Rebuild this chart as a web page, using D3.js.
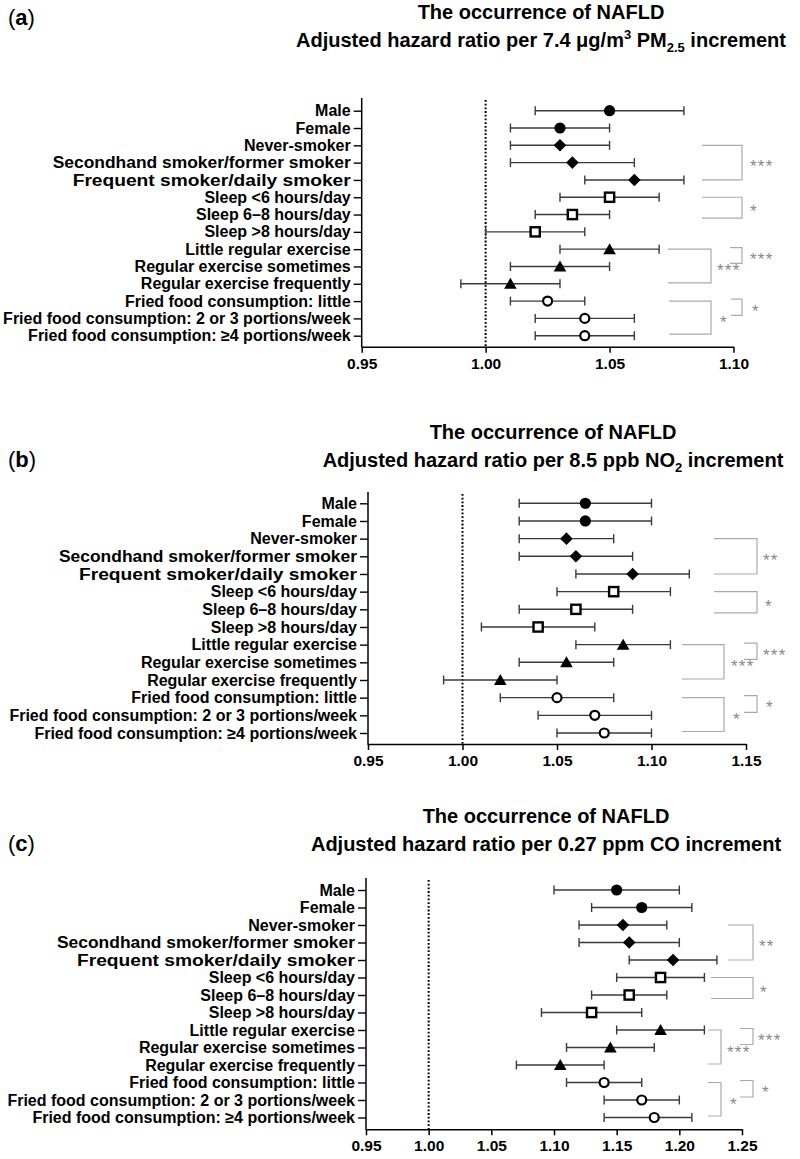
<!DOCTYPE html>
<html><head><meta charset="utf-8">
<script src="https://cdn.jsdelivr.net/npm/d3@7"></script>
<style>body{margin:0;background:#fff}svg{display:block}</style>
</head><body>
<script>
// ---------- DATA ----------
const categories = [
  "Male","Female","Never-smoker","Secondhand smoker/former smoker","Frequent smoker/daily smoker",
  "Sleep <6 hours/day","Sleep 6\u20138 hours/day","Sleep >8 hours/day",
  "Little regular exercise","Regular exercise sometimes","Regular exercise frequently",
  "Fried food consumption: little","Fried food consumption: 2 or 3 portions/week","Fried food consumption: \u22654 portions/week"
];
const markerShapes = ["dot","dot","diamond","diamond","diamond","square","square","square","triangle","triangle","triangle","ring","ring","ring"];

const pm25Est  = [1.05,1.03,1.03,1.035,1.06,1.05,1.035,1.02,1.05,1.03,1.01,1.025,1.04,1.04];
const pm25Low  = [1.02,1.01,1.01,1.01,1.04,1.03,1.02,1.00,1.03,1.01,0.99,1.01,1.02,1.02];
const pm25High = [1.08,1.05,1.05,1.06,1.08,1.07,1.05,1.04,1.07,1.05,1.03,1.04,1.06,1.06];

const no2Est  = [1.065,1.065,1.055,1.06,1.09,1.08,1.06,1.04,1.085,1.055,1.02,1.05,1.07,1.075];
const no2Low  = [1.03,1.03,1.03,1.03,1.06,1.05,1.03,1.01,1.06,1.03,0.99,1.02,1.04,1.05];
const no2High = [1.10,1.10,1.08,1.09,1.12,1.11,1.09,1.07,1.11,1.08,1.05,1.08,1.10,1.10];

const coEst  = [1.15,1.17,1.155,1.16,1.195,1.185,1.16,1.13,1.185,1.145,1.105,1.14,1.17,1.18];
const coLow  = [1.10,1.13,1.12,1.12,1.16,1.15,1.13,1.09,1.15,1.11,1.07,1.11,1.14,1.14];
const coHigh = [1.20,1.21,1.19,1.20,1.23,1.22,1.19,1.17,1.22,1.18,1.14,1.17,1.20,1.21];

const pm25Ticks = [0.95,1.00,1.05,1.10];
const no2Ticks  = [0.95,1.00,1.05,1.10,1.15];
const coTicks   = [0.95,1.00,1.05,1.10,1.15,1.20,1.25];

const bracketFrom = [2,5,8,8,11,11];
const bracketTo   = [4,6,10,9,13,12];
const pm25Stars = ["***","*","***","***","*","*"];
const no2Stars  = ["**","*","***","***","*","*"];
const coStars   = ["**","*","***","***","*","*"];

const panelLetters = ["a","b","c"];
const titleLine1 = "The occurrence of NAFLD";

// ---------- LAYOUT ----------
const W = 800, H = 1159;
const panels = [
  { letter: panelLetters[0], est: pm25Est, low: pm25Low, high: pm25High, ticks: pm25Ticks, stars: pm25Stars,
    title2: [["Adjusted hazard ratio per 7.4 \u03bcg/m",""],["3","sup"],[" PM",""],["2.5","sub"],[" increment",""]],
    titleX: 541, t1Y: 19, t2Y: 47, letterY: 25,
    axisTop: 98, row0: 110.7, rowN: 335.7, xAxisY: 346.7, xr: [361.7, 733.5],
    bx: [[702,742],[702,742],[668,711],[730,742],[669,711],[731,742]],
    sx: [750,750,717,750,720,752] },
  { letter: panelLetters[1], est: no2Est, low: no2Low, high: no2High, ticks: no2Ticks, stars: no2Stars,
    title2: [["Adjusted hazard ratio per 8.5 ppb NO",""],["2","sub"],[" increment",""]],
    titleX: 553, t1Y: 439, t2Y: 467, letterY: 467,
    axisTop: 492, row0: 503.3, rowN: 733, xAxisY: 744, xr: [368, 746],
    bx: [[714,757],[714,757],[682,724],[744,757],[682,724],[744,757]],
    sx: [763,765,731,763,733,766] },
  { letter: panelLetters[2], est: coEst, low: coLow, high: coHigh, ticks: coTicks, stars: coStars,
    title2: [["Adjusted hazard ratio per 0.27 ppm CO increment",""]],
    titleX: 546, t1Y: 823, t2Y: 851, letterY: 851,
    axisTop: 878, row0: 890, rowN: 1117.5, xAxisY: 1129.3, xr: [366, 742],
    bx: [[728,753],[711,753],[708,721],[740,753],[708,721],[740,753]],
    sx: [759,760,727,758,730,762] }
];
// bracket vertical offsets (top, bottom) relative to rows
const bdy = [[0,0],[0,3.5],[0,-1],[-1.5,-3],[0,-1.5],[-2,-3]];
// rendered widths of the two wider smoking labels in the reference
const wideLabelWidth = { "Secondhand smoker/former smoker": 298, "Frequent smoker/daily smoker": 278 };

const svg = d3.select("body").append("svg").attr("width", W).attr("height", H)
  .style("font-family", "'Liberation Sans', Arial, sans-serif");

panels.forEach(p => {
  const g = svg.append("g");
  const x = d3.scaleLinear().domain([p.ticks[0], p.ticks[p.ticks.length-1]]).range(p.xr);
  const y = d3.scalePoint().domain(categories).range([p.row0, p.rowN]);

  // panel letter
  const lt = g.append("text").attr("x", 8).attr("y", p.letterY).attr("font-size", 22).attr("fill", "#000");
  lt.append("tspan").text("(");
  lt.append("tspan").attr("font-weight", "bold").text(p.letter);
  lt.append("tspan").text(")");

  // titles
  g.append("text").attr("x", p.titleX).attr("y", p.t1Y).attr("text-anchor", "middle")
    .attr("font-weight", "bold").attr("font-size", 20).text(titleLine1);
  const t2 = g.append("text").attr("x", p.titleX).attr("y", p.t2Y).attr("text-anchor", "middle")
    .attr("font-weight", "bold").attr("font-size", 20);
  let prevDy = 0;
  p.title2.forEach(([s, k]) => {
    const ts = t2.append("tspan").text(s);
    let dy = 0;
    if (k === "sup") { ts.attr("font-size", 13); dy = -8; }
    if (k === "sub") { ts.attr("font-size", 13); dy = 5; }
    const shift = dy - prevDy;
    if (shift) ts.attr("dy", shift);
    prevDy = dy;
  });

  // dotted reference line at 1.00
  g.append("line").attr("x1", x(1)).attr("x2", x(1)).attr("y1", p.axisTop + 2).attr("y2", p.xAxisY)
    .attr("stroke", "#000").attr("stroke-width", 2).attr("stroke-dasharray", "1.8,1.9");

  // y axis
  const ya = g.append("g").attr("transform", `translate(${p.xr[0]},0)`)
    .call(d3.axisLeft(y).tickSize(8).tickPadding(3));
  ya.select(".domain").remove();
  ya.selectAll(".tick line").attr("stroke", "#000").attr("stroke-width", 1.4);
  ya.selectAll(".tick text").attr("font-size", 16).attr("font-weight", "bold").attr("fill", "#000")
    .attr("font-family", "'Liberation Sans', Arial, sans-serif")
    .each(function(d) {
      if (wideLabelWidth[d]) d3.select(this).attr("textLength", wideLabelWidth[d]).attr("lengthAdjust", "spacingAndGlyphs");
    });
  g.append("line").attr("x1", p.xr[0]).attr("x2", p.xr[0]).attr("y1", p.axisTop).attr("y2", p.xAxisY + 0.75)
    .attr("stroke", "#000").attr("stroke-width", 1.5);

  // x axis
  const xa = g.append("g").attr("transform", `translate(0,${p.xAxisY})`)
    .call(d3.axisBottom(x).tickValues(p.ticks).tickFormat(d3.format(".2f")).tickSize(6).tickPadding(5).tickSizeOuter(0));
  xa.select(".domain").attr("stroke", "#000").attr("stroke-width", 1.5);
  xa.selectAll(".tick line").attr("stroke", "#000").attr("stroke-width", 1.5);
  xa.selectAll(".tick text").attr("font-size", 15.5).attr("font-weight", "bold").attr("fill", "#000")
    .attr("font-family", "'Liberation Sans', Arial, sans-serif");

  // error bars
  const rows = categories.map((c, i) => ({ c, i, e: p.est[i], lo: p.low[i], hi: p.high[i], s: markerShapes[i] }));
  const eb = g.append("g").attr("stroke", "#3a3a3a").attr("stroke-width", 1.4);
  rows.forEach(r => {
    const yy = y(r.c);
    eb.append("line").attr("x1", x(r.lo)).attr("x2", x(r.hi)).attr("y1", yy).attr("y2", yy);
    eb.append("line").attr("x1", x(r.lo)).attr("x2", x(r.lo)).attr("y1", yy - 4.5).attr("y2", yy + 4.5);
    eb.append("line").attr("x1", x(r.hi)).attr("x2", x(r.hi)).attr("y1", yy - 4.5).attr("y2", yy + 4.5);
  });

  // markers
  rows.forEach(r => {
    const cx = x(r.e), cy = y(r.c);
    if (r.s === "dot") g.append("circle").attr("cx", cx).attr("cy", cy).attr("r", 5.6).attr("fill", "#000");
    else if (r.s === "ring") g.append("circle").attr("cx", cx).attr("cy", cy).attr("r", 4.5)
      .attr("fill", "#fff").attr("stroke", "#000").attr("stroke-width", 2.2);
    else if (r.s === "square") g.append("rect").attr("x", cx - 4.6).attr("y", cy - 4.6).attr("width", 9.2).attr("height", 9.2)
      .attr("fill", "#fff").attr("stroke", "#000").attr("stroke-width", 2.4);
    else if (r.s === "diamond") g.append("path")
      .attr("d", `M${cx},${cy-6.3}L${cx+6.3},${cy}L${cx},${cy+6.3}L${cx-6.3},${cy}Z`).attr("fill", "#000");
    else if (r.s === "triangle") g.append("path")
      .attr("d", `M${cx},${cy-6}L${cx+6.3},${cy+5}L${cx-6.3},${cy+5}Z`).attr("fill", "#000");
  });

  // significance brackets
  bracketFrom.forEach((f, k) => {
    const yt = y(categories[f]) + bdy[k][0];
    const yb = y(categories[bracketTo[k]]) + bdy[k][1];
    const [x0, x1] = p.bx[k];
    g.append("path").attr("d", `M${x0},${yt}H${x1}V${yb}H${x0}`)
      .attr("fill", "none").attr("stroke", "#aaa").attr("stroke-width", 1.2);
    const big = (k === 2 || k === 4);
    g.append("text").attr("x", p.sx[k]).attr("y", (yt + yb) / 2 + (big ? 1 : 0) + 9.5)
      .attr("font-size", 17).attr("letter-spacing", 1.2).attr("fill", "#888")
      .text(p.stars[k]);
  });
});
</script>
</body></html>
